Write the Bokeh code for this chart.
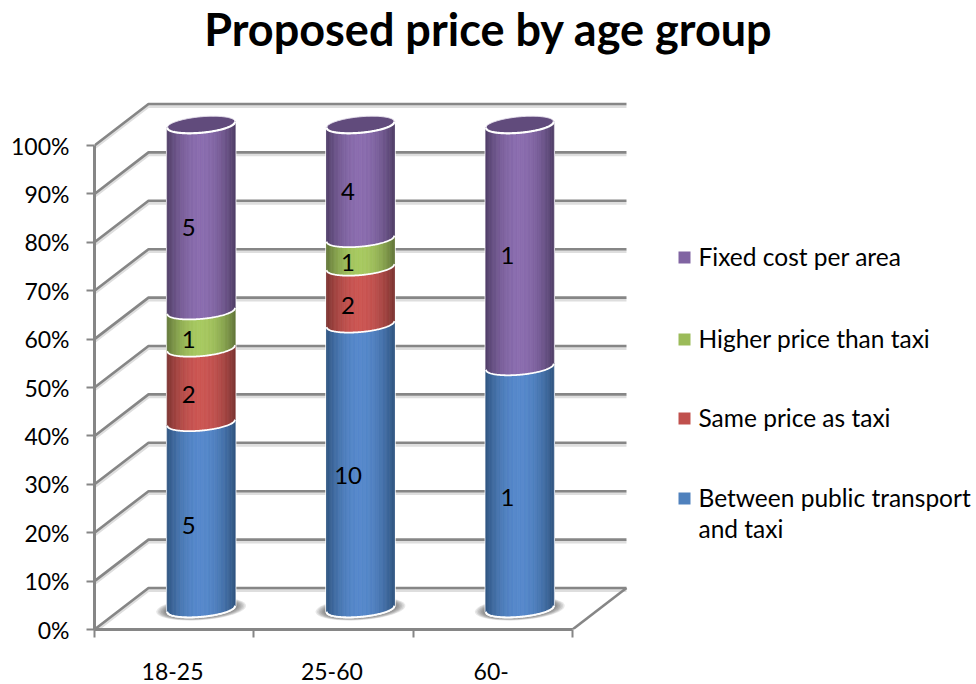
import numpy as np
from bokeh.core.properties import value
from bokeh.embed import file_html
from bokeh.models import FixedTicker, LinearAxis, Range1d
from bokeh.plotting import figure
from bokeh.resources import INLINE

# Survey counts per age group
chart_title = "Proposed price by age group"
categories = ["18-25", "25-60", "60-"]
between_public_and_taxi = [5, 10, 1]
same_price_as_taxi = [2, 2, 0]
higher_price_than_taxi = [1, 1, 0]
fixed_cost_per_area = [5, 4, 1]

series_names = ["Between public transport\nand taxi", "Same price as taxi",
                "Higher price than taxi", "Fixed cost per area"]
series_values = [between_public_and_taxi, same_price_as_taxi,
                 higher_price_than_taxi, fixed_cost_per_area]
percent_ticks = [0, 10, 20, 30, 40, 50, 60, 70, 80, 90, 100]

# Flat legend colours, then the lit centre and shaded rim of each cylinder
flat_colors = ["#4F81BD", "#C0504D", "#9BBB59", "#8064A2"]
center_colors = ["#5588CB", "#CB5552", "#A7C960", "#8A6CAE"]
rim_colors = ["#2F5480", "#7C3431", "#627639", "#4F3D66"]
cap_color = "#614B7C"
wall_color = "#868686"

# Frame geometry and oblique projection of the chart's depth axis.
# The frame reaches the top of the page so the heading can share its coordinates.
WIDTH, HEIGHT = 976, 684
LEFT, BOTTOM, TOP = 94, 55, 0
X_SCALE = 159.33          # pixels per category
Y_SCALE = 4.84            # pixels per percent
DEPTH_X = 54 / X_SCALE    # shift of the rear wall, in category units
DEPTH_Y = 41.5 / Y_SCALE  # rise of the rear wall, in percent
RADIUS = 34 / X_SCALE
MINOR = 8 / Y_SCALE
TILT = 3 / Y_SCALE
x_end = (WIDTH - LEFT) / X_SCALE
y_end = (HEIGHT - BOTTOM - TOP) / Y_SCALE


def project(x, pct, depth):
    return x + depth * DEPTH_X, pct + depth * DEPTH_Y


def to_data(px, py):
    return (px - LEFT) / X_SCALE, (HEIGHT - BOTTOM - py) / Y_SCALE


def mix(a, b, t):
    ca = [int(a[i:i + 2], 16) for i in (1, 3, 5)]
    cb = [int(b[i:i + 2], 16) for i in (1, 3, 5)]
    return "#%02x%02x%02x" % tuple(round(p + (q - p) * t) for p, q in zip(ca, cb))


def front_curve(u, level, minor=MINOR, tilt=TILT):
    return level - minor * np.sqrt(np.clip(1 - u * u, 0, 1)) + tilt * u


def back_curve(u, level, minor=MINOR, tilt=TILT):
    return level + minor * np.sqrt(np.clip(1 - u * u, 0, 1)) + tilt * u


p = figure(width=WIDTH, height=HEIGHT, output_backend="svg", toolbar_location=None,
           x_range=Range1d(0, x_end), y_range=Range1d(0, y_end),
           x_axis_type=None, y_axis_type=None,
           min_border_left=LEFT, min_border_right=0,
           min_border_bottom=BOTTOM, min_border_top=TOP)
p.outline_line_color = None
p.grid.visible = False
p.background_fill_color = "white"
p.border_fill_color = "white"

# Heading, centred on the page
title_x, title_y = to_data(488, 28)
p.text([title_x], [title_y], text=[chart_title], text_font=value("Lato"), text_font_size="45px",
       text_font_style="bold", text_align="center", text_baseline="middle", text_color="black")

# Walls and floor
n_cat = len(categories)
wall_xs, wall_ys = [], []
for pct in percent_ticks:
    x0, y0 = project(0, pct, 0)
    x1, y1 = project(0, pct, 1)
    x2, y2 = project(n_cat, pct, 1)
    wall_xs.append([x0, x1, x2])
    wall_ys.append([y0, y1, y2])
floor_x = [n_cat, n_cat + DEPTH_X]
floor_y = [0, DEPTH_Y]
p.multi_line(wall_xs, [[v - 0.5 for v in ys] for ys in wall_ys],
             line_color="#dedede", line_width=3)
p.multi_line(wall_xs, wall_ys, line_color=wall_color, line_width=2.6)
p.line(floor_x, floor_y, line_color=wall_color, line_width=2.6)

# Cylinders, stacked as percentages of each age group
u_edges = np.linspace(-1, 1, 53)
u_fine = np.linspace(-1, 1, 81)
for c in range(n_cat):
    cx, _ = project(c + 0.5, 0, 0.5)
    counts = [s[c] for s in series_values]
    total = sum(counts)
    shares = np.cumsum([0] + counts) / total * 100
    base = 0.5 * DEPTH_Y

    # Soft contact shadow on the floor
    for grow in np.linspace(1.32, 1.0, 8):
        t = np.linspace(0, 2 * np.pi, 60)
        p.patch(cx + RADIUS * grow * np.cos(t),
                base + MINOR * (grow + 0.1) * np.sin(t) + TILT * np.cos(t),
                fill_color="#303030", fill_alpha=0.11, line_color=None)

    # White silhouette behind the shaded strips
    top_level = base + 100
    sil_x = np.concatenate([cx + RADIUS * u_fine, cx + RADIUS * u_fine[::-1]])
    sil_y = np.concatenate([front_curve(u_fine, base), back_curve(u_fine[::-1], top_level)])
    p.patch(sil_x, sil_y, fill_color="white", line_color="white", line_width=2.4)

    # One patch per vertical strip gives the cylinder its rounded shading
    xs, ys, fills = [], [], []
    for s, count in enumerate(counts):
        if count == 0:
            continue
        low, high = base + shares[s], base + shares[s + 1]
        for u0, u1 in zip(u_edges[:-1], u_edges[1:]):
            um = (u0 + u1) / 2
            fills.append(mix(rim_colors[s], center_colors[s], 1 - abs(um) ** 2.0))
            xs.append([cx + RADIUS * u0, cx + RADIUS * u1, cx + RADIUS * u1, cx + RADIUS * u0])
            ys.append([front_curve(u0, high), front_curve(u1, high),
                       front_curve(u1, low), front_curve(u0, low)])
    p.patches(xs, ys, fill_color=fills, line_color=fills, line_width=0.8)

    # Seams between the stacked segments and the base rim
    for s, count in enumerate(counts):
        if count == 0:
            continue
        p.line(cx + RADIUS * u_fine, front_curve(u_fine, base + shares[s]),
               line_color="white", line_width=1.8)

    # Top cap
    cap_x = np.concatenate([cx + RADIUS * u_fine, cx + RADIUS * u_fine[::-1]])
    cap_y = np.concatenate([front_curve(u_fine, top_level), back_curve(u_fine[::-1], top_level)])
    p.patch(cap_x, cap_y, fill_color=cap_color, line_color="#e9e4ef", line_width=1)
    p.line(cx + RADIUS * u_fine, front_curve(u_fine, top_level),
           line_color="white", line_width=2.2)

    # Count labels at the middle of each segment
    for s, count in enumerate(counts):
        if count == 0:
            continue
        lx, ly = project(c + 0.5, (shares[s] + shares[s + 1]) / 2, 0.27)
        p.text([lx], [ly], text=[str(count)], text_font=value("Lato"), text_font_size="24px",
               text_align="center", text_baseline="middle", text_color="black")

# Axes
y_axis = LinearAxis(ticker=FixedTicker(ticks=percent_ticks), bounds=(0, 100),
                    major_label_overrides={v: f"{v}%" for v in percent_ticks})
y_axis.axis_line_color = wall_color
y_axis.axis_line_width = 3
y_axis.major_tick_line_color = wall_color
y_axis.major_tick_line_width = 2
y_axis.major_tick_out = 8
y_axis.major_tick_in = 0
y_axis.minor_tick_line_color = None
y_axis.major_label_standoff = 17
y_axis.major_label_text_font = "Lato"
y_axis.major_label_text_font_size = "23px"
y_axis.major_label_text_color = "black"
p.add_layout(y_axis, "left")

centers = [i + 0.49 for i in range(n_cat)]
x_axis = LinearAxis(ticker=FixedTicker(ticks=centers, minor_ticks=list(range(n_cat + 1))),
                    bounds=(0, n_cat),
                    major_label_overrides=dict(zip(centers, categories)))
x_axis.axis_line_color = wall_color
x_axis.axis_line_width = 3
x_axis.major_tick_line_color = None
x_axis.major_tick_out = 0
x_axis.major_tick_in = 0
x_axis.minor_tick_line_color = wall_color
x_axis.minor_tick_line_width = 2
x_axis.minor_tick_out = 8
x_axis.minor_tick_in = 0
x_axis.major_label_standoff = 25
x_axis.major_label_text_font = "Lato"
x_axis.major_label_text_font_size = "23px"
x_axis.major_label_text_color = "black"
p.add_layout(x_axis, "below")

# Legend, listed from the top of the stack downwards
legend_rows = [257, 339, 418, 498]
for s, row in zip(reversed(range(len(series_names))), legend_rows):
    mx, my = to_data(684, row)
    tx, ty = to_data(698, row - 16)
    p.scatter([mx], [my], marker="square", size=12, fill_color=flat_colors[s], line_color=None)
    p.text([tx], [ty], text=[series_names[s]], text_font=value("Lato"), text_font_size="24.5px",
           text_align="left", text_baseline="top", text_color="black", text_line_height=1.1)

open("out.html", "w").write(file_html(p, INLINE))
